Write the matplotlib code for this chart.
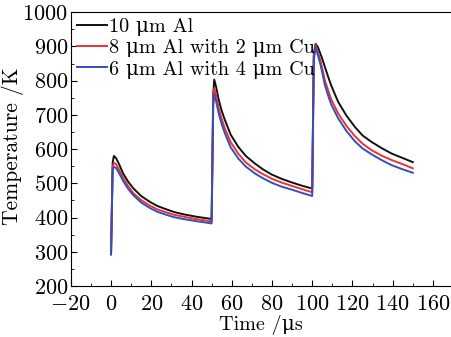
import matplotlib
matplotlib.use('Agg')
import matplotlib.pyplot as plt
from matplotlib.ticker import MultipleLocator

plt.rcParams['font.family'] = ['cmr10', 'DejaVu Serif']
plt.rcParams['mathtext.fontset'] = 'cm'
plt.rcParams['axes.formatter.use_mathtext'] = True

# values (three pulses, one shared time axis)
time_us = [0, 0.8, 1.4, 2.5, 4, 6, 8.5, 11, 15, 19.3, 23, 27.6, 31.5, 35.8, 42, 50,
           50.8, 51.3, 52.3, 53.5, 55, 56.6, 59.5, 63.2, 67, 71.5, 75.5, 79.8, 84.5, 89.7, 95, 100,
           100.8, 101.7, 102.8, 104, 105.2, 106.3, 108, 109.5, 112.9, 117, 121.2, 125, 129.5,
           134.5, 139.5, 145, 150]
al_10 = [293, 560, 580, 574, 556, 529, 505, 486, 463, 446, 434, 424, 416, 410, 403, 396,
         760, 803, 780, 745, 712, 685, 642, 607, 580, 558, 541, 526, 514, 503, 493, 485,
         880, 907, 898, 880, 860, 840, 810, 785, 738, 698, 665, 640, 621,
         603, 587, 574, 562]
al_8_cu_2 = [293, 548, 560, 556, 540, 517, 492, 472, 451, 435, 424, 415, 408, 403, 396, 389,
             745, 778, 755, 720, 688, 660, 620, 587, 561, 541, 527, 514, 503, 493, 483, 474,
             870, 903, 885, 860, 830, 801, 770, 745, 704, 668, 638, 616, 597,
             581, 568, 556, 544]
al_6_cu_4 = [293, 540, 548, 545, 530, 507, 484, 466, 444, 428, 417, 408, 401, 396, 390, 383,
             730, 760, 738, 705, 673, 646, 605, 573, 549, 529, 515, 502, 491, 482, 472, 463,
             860, 898, 875, 850, 818, 787, 755, 730, 690, 653, 623, 602, 585,
             568, 553, 541, 531]
labels = ['10 \u03bcm Al', '8 \u03bcm Al with 2 \u03bcm Cu', '6 \u03bcm Al with 4 \u03bcm Cu']
colors = ['#111111', '#f03030', '#3050c0']

fig = plt.figure(figsize=(4.51, 3.37), dpi=100)
ax = fig.add_axes([0.157, 0.151, 0.843, 0.813])

for y, lab, c in zip([al_10, al_8_cu_2, al_6_cu_4], labels, colors):
    ax.plot(time_us, y, color=c, lw=1.4, label=lab)

ax.set_xlim(-20, 169)
ax.set_ylim(200, 1000)
ax.xaxis.set_major_locator(MultipleLocator(20))
ax.xaxis.set_minor_locator(MultipleLocator(10))
ax.yaxis.set_major_locator(MultipleLocator(100))
ax.yaxis.set_minor_locator(MultipleLocator(50))
ax.tick_params(which='both', direction='in', labelsize=16)
ax.tick_params(axis='x', pad=6)
ax.tick_params(axis='y', pad=2)
ax.tick_params(which='major', length=4)
ax.tick_params(which='minor', length=2)
ax.spines['right'].set_visible(False)

ax.set_xlabel('Time /\u03bcs', fontsize=14.5, labelpad=1)
ax.set_ylabel('Temperature /K', fontsize=15.5)
ax.yaxis.set_label_coords(-0.124, 0.51)

ax.legend(loc='upper left', frameon=False, fontsize=14.5, handlelength=1.5,
          handletextpad=0.1, labelspacing=0.15, borderaxespad=0.1, borderpad=0.2)

fig.savefig('out.png', dpi=100)
